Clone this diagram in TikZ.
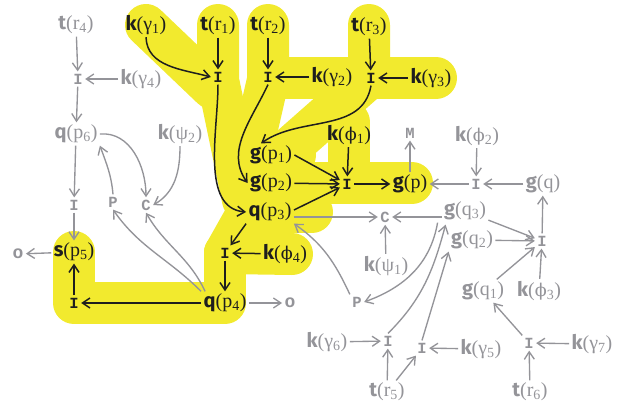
\documentclass[tikz,border=0pt]{standalone}
\usepackage{fontspec}
\usetikzlibrary{arrows.meta}
\newfontfamily\fnb{Fira Sans}
\newfontfamily\argf{Liberation Serif}
\newfontfamily\phif{DejaVu Serif}[Scale=0.88]
\newfontfamily\opf{Liberation Mono}
\definecolor{hl}{RGB}{242,234,46}
\definecolor{gr}{RGB}{148,148,153}
\definecolor{bk}{RGB}{30,30,30}
\newcommand\fl[3]{{\fnb\bfseries #1}{\argf(#2\textsubscript{#3})}}
\newcommand\fz[2]{{\fnb\bfseries #1}{\argf(#2)}}
\newcommand\vphi{{\phif ϕ}}
\begin{document}
\begin{tikzpicture}[x=1pt,y=1pt,
  lab/.style={inner sep=2.5pt,outer sep=0pt,font=\fontsize{20}{22}\selectfont},
  op/.style={inner sep=2.5pt,outer sep=0pt,font=\fontsize{15.5}{16}\selectfont\opf\bfseries},
  opo/.style={inner sep=2.5pt,outer sep=0pt,font=\fontsize{18}{18}\selectfont\opf\bfseries},
  gtxt/.style={text=gr},
  btxt/.style={text=bk},
  ga/.style={draw=gr,line width=1.35pt,-{Straight Barb[length=7.5pt,width=10pt]}},
  ba/.style={draw=bk,line width=1.5pt,-{Straight Barb[length=7.5pt,width=10pt]}},
  hls/.style={draw=hl,line width=42pt,line cap=round,line join=round}]
\useasboundingbox (0,0) rectangle (628,-410);
% highlight
\draw[hls] (146,-25) -- (212,-88);
\draw[hls] (218,-25) -- (218,-80) -- (243,-200);
\draw[hls] (268,-25) -- (268,-80) -- (252,-150);
\draw[hls] (268,-78) -- (436,-78);
\draw[hls] (369,-25) -- (369,-78) -- (285,-152);
\draw[hls] (262,-155) -- (295,-155);
\draw[hls] (262,-183) -- (412,-183);
\draw[hls] (349,-122) -- (349,-183);
\draw[hls] (262,-212) -- (312,-212);
\draw[hls] (252,-205) -- (225,-253);
\draw[hls] (225,-253) -- (292,-254);
\draw[hls] (225,-253) -- (225,-303) -- (74,-303) -- (74,-252);
% nodes
\node[lab,gtxt] (tr4) at (76,-25) {\fl{t}{r}{4}};
\node[lab,btxt] (kg1) at (146,-25) {\fl{k}{γ}{1}};
\node[lab,btxt] (tr1) at (218,-26) {\fl{t}{r}{1}};
\node[lab,btxt] (tr2) at (268,-26) {\fl{t}{r}{2}};
\node[lab,btxt] (tr3) at (369,-27) {\fl{t}{r}{3}};
\node[op,gtxt] (Ia) at (78,-79) {I};
\node[lab,gtxt] (kg4) at (141,-79) {\fl{k}{γ}{4}};
\node[op,btxt] (Ib) at (218,-77) {I};
\node[op,btxt] (Ic) at (268,-77) {I};
\node[lab,btxt] (kg2) at (332,-77) {\fl{k}{γ}{2}};
\node[op,btxt] (Id) at (371,-78) {I};
\node[lab,btxt] (kg3) at (431,-78) {\fl{k}{γ}{3}};
\node[lab,gtxt] (qp6) at (76,-134) {\fl{q}{p}{6}};
\node[lab,gtxt] (kpsi2) at (180,-134) {\fl{k}{ψ}{2}};
\node[lab,btxt] (kphi1) at (349,-135) {\fl{k}{\vphi}{1}};
\node[op,gtxt] (M) at (410,-133) {M};
\node[lab,gtxt] (kphi2) at (477,-136) {\fl{k}{\vphi}{2}};
\node[lab,btxt] (gp1) at (271,-155) {\fl{g}{p}{1}};
\node[lab,btxt] (gp2) at (271,-183) {\fl{g}{p}{2}};
\node[op,btxt] (Ie) at (347,-184) {I};
\node[lab,btxt] (gp) at (410,-184) {\fz{g}{p}};
\node[op,gtxt] (If) at (476,-184) {I};
\node[lab,gtxt] (gq) at (543,-184) {\fz{g}{q}};
\node[op,gtxt] (Ig) at (74,-205) {I};
\node[op,gtxt] (Pl) at (113,-202) {P};
\node[op,gtxt] (Cl) at (146,-205) {C};
\node[lab,btxt] (qp3) at (270,-212) {\fl{q}{p}{3}};
\node[op,gtxt] (Cr) at (385,-217) {C};
\node[lab,gtxt] (gq3) at (465,-211) {\fl{g}{q}{3}};
\node[lab,gtxt] (gq2) at (472,-240) {\fl{g}{q}{2}};
\node[op,gtxt] (Ih) at (542,-241) {I};
\node[lab,gtxt] (kpsi1) at (386,-266) {\fl{k}{ψ}{1}};
\node[lab,btxt] (sp5) at (74,-252) {\fl{s}{p}{5}};
\node[opo,gtxt] (Oa) at (18,-254) {o};
\node[op,btxt] (Ii) at (225,-253) {I};
\node[lab,btxt] (kphi4) at (285,-254) {\fl{k}{\vphi}{4}};
\node[lab,gtxt] (gq1) at (483,-291) {\fl{g}{q}{1}};
\node[lab,gtxt] (kphi3) at (539,-291) {\fl{k}{\vphi}{3}};
\node[lab,btxt] (qp4) at (225,-303) {\fl{q}{p}{4}};
\node[op,btxt] (Ij) at (74,-303) {I};
\node[opo,gtxt] (Ob) at (290,-303) {o};
\node[op,gtxt] (Pr) at (357,-302) {P};
\node[lab,gtxt] (kg6) at (327,-342) {\fl{k}{γ}{6}};
\node[op,gtxt] (Ik) at (388,-341) {I};
\node[op,gtxt] (Il) at (422,-348) {I};
\node[lab,gtxt] (kg5) at (481,-349) {\fl{k}{γ}{5}};
\node[op,gtxt] (Im) at (529,-343) {I};
\node[lab,gtxt] (kg7) at (592,-344) {\fl{k}{γ}{7}};
\node[lab,gtxt] (tr5) at (387,-392) {\fl{t}{r}{5}};
\node[lab,gtxt] (tr6) at (530,-392) {\fl{t}{r}{6}};
% gray edges
\draw[ga] (tr4) -- (Ia);
\draw[ga] (kg4) -- (Ia);
\draw[ga] (Ia) -- (qp6);
\draw[ga] (qp6) -- (Ig);
\draw[ga] (Ig) -- (sp5);
\draw[ga] (sp5) -- (Oa);
\draw[ga] (qp6.east) to[out=5,in=90] (Cl.north);
\draw[ga] (kpsi2.south) to[out=-90,in=30] (Cl.east);
\draw[ga] (Pl.north) to[out=95,in=-70] (qp6.south east);
\draw[ga] (qp4.north west) to[out=135,in=-55] (Pl.south);
\draw[ga] ([xshift=4pt]qp4.north west) to[out=115,in=-60] (Cl.south);
\draw[ga] (qp4) -- (Ob);
\draw[ga] (qp3.east |- Cr) -- (Cr);
\draw[ga] (gq3.west |- Cr) -- (Cr);
\draw[ga] (kpsi1) -- (Cr);
\draw[ga] (gp) -- (M);
\draw[ga] (If) -- (gp);
\draw[ga] (gq) -- (If);
\draw[ga] (kphi2) -- (If);
\draw[ga] (Ih) -- (gq);
\draw[ga] (gq3) -- (Ih);
\draw[ga] (gq2) -- (Ih);
\draw[ga] (gq1) -- (Ih);
\draw[ga] (kphi3) -- (Ih);
\draw[ga] (Im) -- (gq1);
\draw[ga] (kg7) -- (Im);
\draw[ga] (tr6) -- (Im);
\draw[ga] (kg5) -- (Il);
\draw[ga] (tr5) -- (Il);
\draw[ga] (tr5) -- (Ik);
\draw[ga] (kg6) -- (Ik);
\draw[ga] (Ik.north) to[out=45,in=-105] ([xshift=4pt,yshift=-2pt]gq3.south west);
\draw[ga] (Il.north) -- (gq2.south west);
\draw[ga] ([xshift=-4pt]gq3.south west) to[out=-100,in=20] (Pr.east);
\draw[ga] (Pr.north west) to[out=115,in=-35] (qp3.south east);
% black edges
\draw[ba] (kg1.south) to[out=-88,in=165] (Ib.west);
\draw[ba] (tr1) -- (Ib);
\draw[ba] (tr2) -- (Ic);
\draw[ba] (kg2) -- (Ic);
\draw[ba] (tr3) -- (Id);
\draw[ba] (kg3) -- (Id);
\draw[ba] (Id.south) to[out=-100,in=35] ([xshift=-10pt]gp1.north);
\draw[ba] (Ic.south) to[out=-115,in=125] (gp2.west);
\draw[ba] (Ib.south) to[out=-90,in=175,looseness=0.9] (qp3.west);
\draw[ba] (gp1.east) -- (Ie);
\draw[ba] (gp2) -- (Ie);
\draw[ba] ([yshift=2pt]qp3.east) -- (Ie);
\draw[ba] (kphi1) -- (Ie);
\draw[ba] (Ie) -- (gp);
\draw[ba] (qp3.south west) -- (Ii);
\draw[ba] (kphi4) -- (Ii);
\draw[ba] (Ii) -- (qp4);
\draw[ba] (qp4) -- (Ij);
\draw[ba] (Ij) -- (sp5);
\end{tikzpicture}
\end{document}
